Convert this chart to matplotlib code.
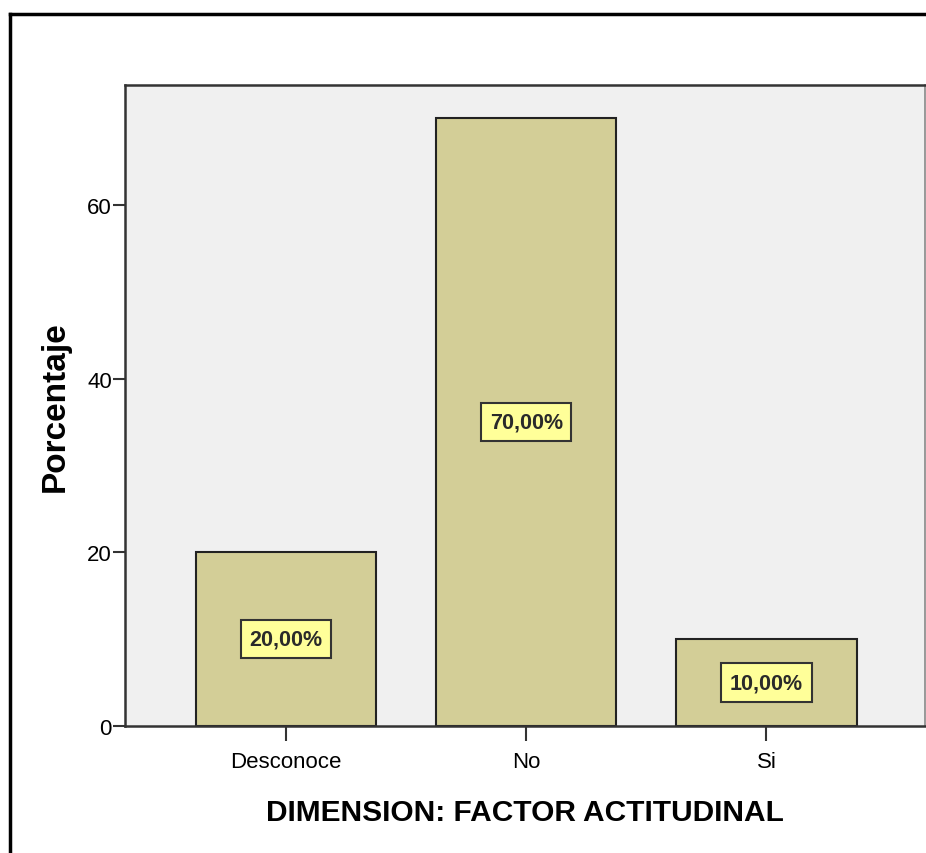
import matplotlib
matplotlib.use("Agg")
import matplotlib.pyplot as plt
from matplotlib.lines import Line2D

# --- dados ---
categorias = ["Desconoce", "No", "Si"]
porcentajes = [20.0, 70.0, 10.0]
etiquetas = ["20,00%", "70,00%", "10,00%"]
yticks = [0, 20, 40, 60]

W, H = 926, 854
plt.rcParams['font.family'] = ['Liberation Sans', 'DejaVu Sans']

fig = plt.figure(figsize=(W / 100, H / 100), dpi=100)
ax = fig.add_axes([125 / W, 1 - 727 / H, 800 / W, (727 - 86) / H])
ax.set_facecolor('#F0F0F0')

x = range(len(categorias))
ax.bar(x, porcentajes, width=0.75, color='#D3CE97', edgecolor='#222222', linewidth=1.5, zorder=2)

# etiquetas de percentagem no meio das barras
for xi, v, lab in zip(x, porcentajes, etiquetas):
    ax.text(xi, v / 2, lab, ha='center', va='center', fontsize=15.5, fontweight='bold',
            color='#2a2a2a', zorder=3,
            bbox=dict(boxstyle='square,pad=0.4', fc='#FFFF99', ec='#333333', lw=1.5))

ax.set_xlim(-0.67, 2.66)
ax.set_ylim(0, 73.8)
ax.set_xticks(list(x))
ax.set_xticklabels(categorias, fontsize=16)
ax.set_yticks(yticks)
ax.set_yticklabels([str(t) for t in yticks], fontsize=16)
ax.tick_params(axis='x', length=11, width=1.5, color='#333333', pad=7)
ax.tick_params(axis='y', length=8.5, width=1.5, color='#333333', pad=1)

for s in ['left', 'bottom', 'top']:
    ax.spines[s].set_color('#333333')
    ax.spines[s].set_linewidth(1.8)
ax.spines['right'].set_color('#888888')
ax.spines['right'].set_linewidth(1.2)

ax.set_ylabel("Porcentaje", fontsize=24, fontweight='bold', labelpad=12)
ax.set_xlabel("DIMENSION: FACTOR ACTITUDINAL", fontsize=21.5, fontweight='bold', labelpad=19)

# moldura exterior
fig.add_artist(Line2D([10 / W, 10 / W], [0, 1 - 15 / H], color='black', lw=2.5, transform=fig.transFigure))
fig.add_artist(Line2D([10 / W, 1], [1 - 15 / H, 1 - 15 / H], color='black', lw=2.5, transform=fig.transFigure))

fig.savefig("out.png", dpi=100)
